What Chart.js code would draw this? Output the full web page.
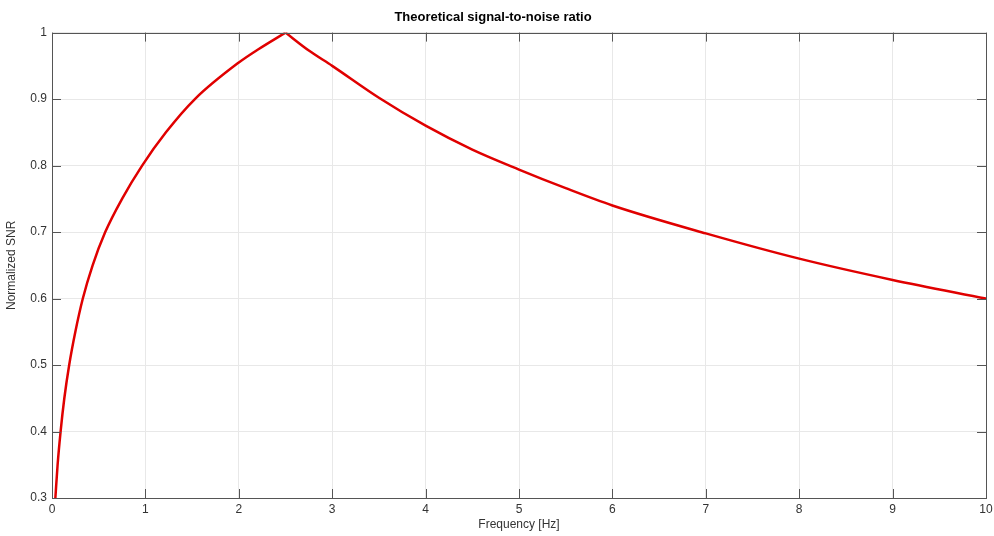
<!DOCTYPE html>
<html>
<head>
<meta charset="utf-8">
<script src="https://cdn.jsdelivr.net/npm/chart.js@4"></script>
<style>
  html, body { margin: 0; padding: 0; background: #fff; }
  #wrap { width: 994px; height: 536px; }
</style>
</head>
<body>
<div id="wrap"><canvas id="snrChart"></canvas></div>
<script>
// values
const riseFreq = [0.036, 0.06, 0.092, 0.132, 0.184, 0.25, 0.33, 0.435, 0.57, 0.75, 0.965, 1.22, 1.53, 2, 2.21, 2.5];
const riseSnr  = [0.3, 0.35, 0.4, 0.45, 0.5, 0.55, 0.6, 0.65, 0.7, 0.75, 0.8, 0.85, 0.9, 0.955, 0.975, 1.0];
const fallFreq = [2.5, 2.75, 3, 3.5, 4, 4.5, 5, 5.5, 6, 7, 8, 9, 10];
const fallSnr  = [1.0, 0.973, 0.95, 0.902, 0.86, 0.824, 0.794, 0.766, 0.74, 0.698, 0.66, 0.628, 0.6];
const xTicks = [0, 1, 2, 3, 4, 5, 6, 7, 8, 9, 10];
const yTicks = [0.3, 0.4, 0.5, 0.6, 0.7, 0.8, 0.9, 1];

const toPoints = (xs, ys) => xs.map((x, i) => ({ x: x, y: ys[i] }));

// box around the plot plus inward tick marks, like matlab
const boxTicks = {
    id: 'boxTicks',
    afterDatasetsDraw(chart) {
        const { ctx, chartArea: a, scales } = chart;
        ctx.save();
        ctx.strokeStyle = '#555';
        ctx.lineWidth = 1;
        ctx.beginPath();
        xTicks.forEach(v => {
            const px = Math.round(scales.x.getPixelForValue(v)) + 0.5;
            ctx.moveTo(px, a.bottom); ctx.lineTo(px, a.bottom - 9);
            ctx.moveTo(px, a.top); ctx.lineTo(px, a.top + 9);
        });
        yTicks.forEach(v => {
            const py = Math.round(scales.y.getPixelForValue(v)) + 0.5;
            ctx.moveTo(a.left, py); ctx.lineTo(a.left + 9, py);
            ctx.moveTo(a.right, py); ctx.lineTo(a.right - 9, py);
        });
        ctx.stroke();
        ctx.strokeRect(Math.round(a.left) + 0.5, Math.round(a.top) + 0.5,
            Math.round(a.right - a.left), Math.round(a.bottom - a.top));
        ctx.restore();
    }
};

Chart.defaults.font.family = '"Liberation Sans", Arial, sans-serif';
Chart.defaults.color = '#333';

const snrChart = document.getElementById('snrChart').getContext('2d');
new Chart(snrChart, {
    type: 'line',
    data: {
        datasets: [{
            label: 'SNR rise',
            data: toPoints(riseFreq, riseSnr),
            borderColor: '#e00000',
            borderWidth: 2.5,
            pointRadius: 0,
            cubicInterpolationMode: 'monotone',
            fill: false
        }, {
            label: 'SNR fall',
            data: toPoints(fallFreq, fallSnr),
            borderColor: '#e00000',
            borderWidth: 2.5,
            pointRadius: 0,
            cubicInterpolationMode: 'monotone',
            fill: false
        }]
    },
    options: {
        responsive: true,
        maintainAspectRatio: false,
        animation: false,
        layout: { padding: { left: 0, right: 8, top: 0, bottom: 0 } },
        plugins: {
            legend: { display: false },
            tooltip: { enabled: false },
            title: {
                display: true,
                text: 'Theoretical signal-to-noise ratio',
                color: '#000',
                font: { size: 13, weight: 'bold' },
                padding: { top: 10, bottom: 7 }
            }
        },
        scales: {
            x: {
                type: 'linear',
                min: 0,
                max: 10,
                afterFit: s => { s.height = 38; s.paddingLeft = 0; s.paddingRight = 0; },
                afterBuildTicks: s => { s.ticks = xTicks.map(v => ({ value: v })); },
                ticks: { font: { size: 12 }, padding: 4, maxRotation: 0 },
                grid: { color: '#e8e8e8', drawTicks: false },
                border: { display: false },
                title: {
                    display: true,
                    text: 'Frequency [Hz]',
                    font: { size: 12 },
                    padding: { top: 1, bottom: 4 }
                }
            },
            y: {
                type: 'linear',
                min: 0.3,
                max: 1,
                afterFit: s => { s.width = 52; s.paddingTop = 0; s.paddingBottom = 0; },
                afterBuildTicks: s => { s.ticks = yTicks.map(v => ({ value: v })); },
                ticks: {
                    font: { size: 12 },
                    padding: 5,
                    callback: v => String(+v.toFixed(1))
                },
                grid: { color: '#e8e8e8', drawTicks: false },
                border: { display: false },
                title: {
                    display: true,
                    text: 'Normalized SNR',
                    font: { size: 12 },
                    padding: { top: 4, bottom: 0 }
                }
            }
        }
    },
    plugins: [boxTicks]
});
</script>
</body>
</html>
